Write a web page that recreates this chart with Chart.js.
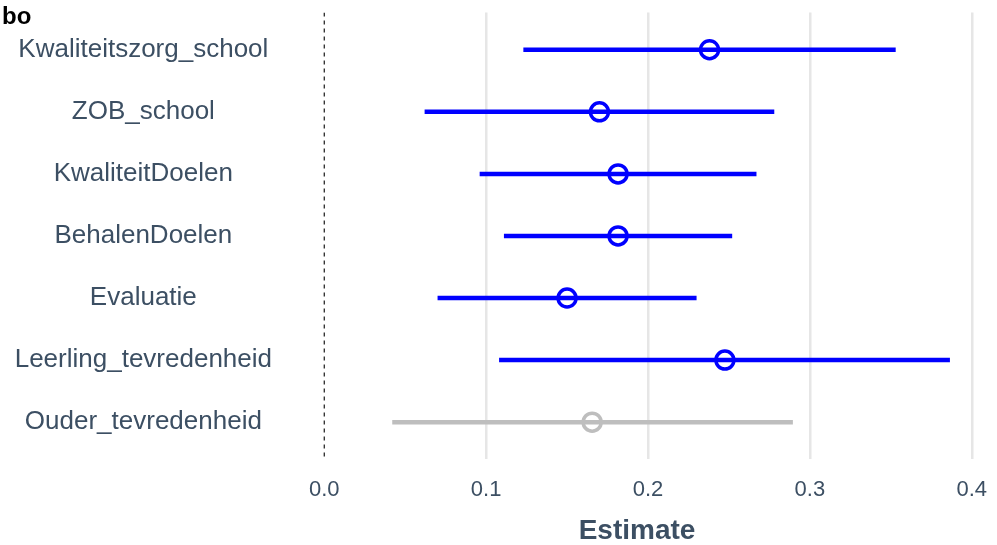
<!DOCTYPE html>
<html><head><meta charset="utf-8">
<script src="https://cdn.jsdelivr.net/npm/chart.js@4/dist/chart.umd.min.js"></script>
<style>html,body{margin:0;padding:0;background:#fff}#wrap{width:997px;height:545px}</style>
</head><body><div id="wrap"><canvas id="c"></canvas></div>
<script>
const categories = ["Kwaliteitszorg_school","ZOB_school","KwaliteitDoelen","BehalenDoelen","Evaluatie","Leerling_tevredenheid","Ouder_tevredenheid"];
const estimates = [0.238, 0.170, 0.1815, 0.1815, 0.150, 0.2475, 0.1655];
const lower = [0.123, 0.062, 0.096, 0.111, 0.070, 0.108, 0.042];
const upper = [0.353, 0.278, 0.267, 0.252, 0.230, 0.3865, 0.2895];
const significant = [true, true, true, true, true, true, false];
const xTicks = [0.0, 0.1, 0.2, 0.3, 0.4];
const panelTag = "bo";

const BLUE = '#0000FF', GREY = '#BEBEBE', TXT = '#3C4F63';
const colors = significant.map(s => s ? BLUE : GREY);

const datasets = [];
datasets.push({
  type: 'line', data: [{x: 0, y: -0.6}, {x: 0, y: 6.6}],
  borderColor: '#000', borderWidth: 1.1, borderDash: [4, 4], pointRadius: 0
});
categories.forEach((c, i) => {
  datasets.push({
    type: 'line', data: [{x: lower[i], y: i}, {x: upper[i], y: i}],
    borderColor: colors[i], borderWidth: 4.5, pointRadius: 0, borderCapStyle: 'butt'
  });
});
datasets.push({
  type: 'scatter', data: estimates.map((e, i) => ({x: e, y: i})),
  pointRadius: 9, pointBorderWidth: 3.5, pointBackgroundColor: '#fff',
  pointBorderColor: colors, pointHoverRadius: 9
});

const tagPlugin = {
  id: 'tag',
  afterDraw(chart) {
    const ctx = chart.ctx;
    ctx.save();
    ctx.font = 'bold 24px "Liberation Sans", Arial, sans-serif';
    ctx.fillStyle = '#000';
    ctx.textBaseline = 'middle';
    ctx.textAlign = 'left';
    ctx.fillText(panelTag, 2, 17);
    ctx.restore();
  }
};

new Chart(document.getElementById('c'), {
  type: 'scatter',
  data: { datasets },
  plugins: [tagPlugin],
  options: {
    responsive: true, maintainAspectRatio: false, animation: false,
    layout: { padding: { top: 10.6, right: 16, bottom: 0, left: 0 } },
    plugins: { legend: { display: false }, tooltip: { enabled: false } },
    scales: {
      x: {
        type: 'linear', min: -0.0193, max: 0.4057,
        afterBuildTicks: s => { s.ticks = xTicks.map(v => ({value: v})); },
        afterFit: s => { s.height = 85.6; s.paddingLeft = 0; s.paddingRight = 0; },
        border: { display: false },
        grid: {
          color: ctx => (ctx.tick && Math.abs(ctx.tick.value) < 1e-9) ? 'rgba(0,0,0,0)' : '#E6E6E6',
          lineWidth: 2.5, drawTicks: false
        },
        ticks: {
          color: TXT, padding: 17.4,
          font: { family: '"Liberation Sans", Arial, sans-serif', size: 22 },
          callback: v => Number(v).toFixed(1), maxRotation: 0, autoSkip: false
        },
        title: {
          display: true, text: 'Estimate', color: TXT,
          font: { family: '"Liberation Sans", Arial, sans-serif', size: 28, weight: 'bold', lineHeight: 1 },
          padding: { top: 13.8, bottom: 0 }
        }
      },
      y: {
        type: 'linear', reverse: true, min: -0.6, max: 6.6,
        afterBuildTicks: s => { s.ticks = categories.map((c, i) => ({value: i})); },
        afterFit: s => { s.width = 293; s.paddingTop = 0; s.paddingBottom = 0; },
        border: { display: false },
        grid: { display: false, drawTicks: false },
        ticks: {
          color: TXT, padding: 21, crossAlign: 'center', autoSkip: false,
          font: { family: '"Liberation Sans", Arial, sans-serif', size: 26 },
          callback: v => categories[v]
        }
      }
    }
  }
});
</script></body></html>
